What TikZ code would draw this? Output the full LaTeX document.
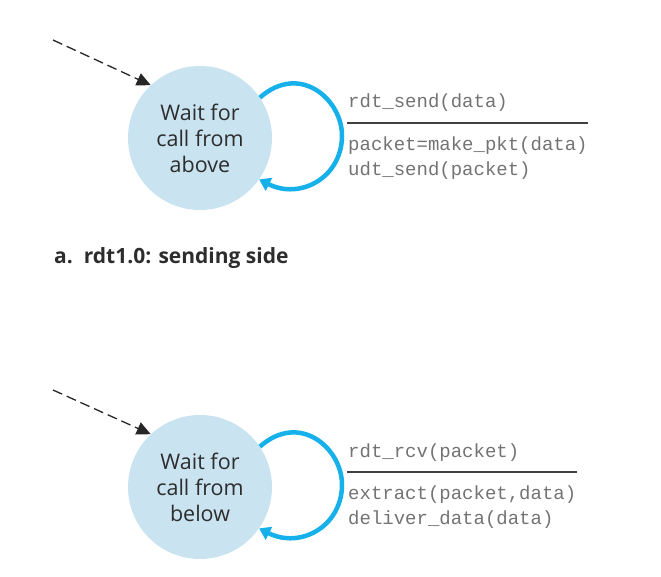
\documentclass[tikz,border=0pt]{standalone}
\usepackage{fontspec}
\setmainfont{Open Sans}
\newfontfamily\codefont{Liberation Mono}
\usetikzlibrary{arrows.meta}
\definecolor{statefill}{RGB}{201,227,241}
\definecolor{loopblue}{RGB}{22,176,234}
\definecolor{codegray}{RGB}{115,115,115}
\definecolor{textdark}{RGB}{45,45,45}
\tikzset{
  statenode/.style={circle, fill=statefill, minimum size=144pt, inner sep=0pt,
    align=center, font=\fontsize{21.5}{26}\selectfont, text=textdark},
  initarrow/.style={draw=black!85, line width=1.3pt, dash pattern=on 10pt off 5pt,
    -{Triangle[length=14pt,width=13pt]}},
  looparrow/.style={draw=loopblue, line width=4.5pt,
    -{Triangle[length=11pt,width=14pt]}},
  codetext/.style={anchor=west, inner sep=0pt, font=\codefont\fontsize{19}{25}\selectfont, text=codegray},
  sepline/.style={draw=black!75, line width=1.4pt},
  captiontext/.style={anchor=west, inner sep=0pt, font=\bfseries\fontsize{21}{24}\selectfont, text=textdark}
}
\begin{document}
\begin{tikzpicture}[x=1pt,y=-1pt]
\useasboundingbox (0,0) rectangle (661,577);
% sending side
\node[statenode] (s1) at (200,138) {Wait for\\call from\\above};
\coordinate (i1) at (53,40);
\draw[initarrow] (i1) -- (s1.133);
\draw[looparrow] (s1.34) .. controls (300,62) and (343,100) .. (342,137)
  .. controls (341,178) and (300,200) .. (s1.-35);
\node[codetext] (e1) at (348,103) {rdt\_send(data)};
\coordinate (l1a) at (347,123);
\coordinate (l1b) at (588,123);
\draw[sepline] (l1a) -- (l1b);
\node[codetext] (a1) at (348,146) {packet=make\_pkt(data)};
\node[codetext] (a2) at (348,171) {udt\_send(packet)};
\node[captiontext] (c1) at (54,258) {a.\ \ rdt1.0: sending side};
% receiving side
\node[statenode] (s2) at (200,487) {Wait for\\call from\\below};
\coordinate (i2) at (53,390);
\draw[initarrow] (i2) -- (s2.133);
\draw[looparrow] (s2.34) .. controls (300,411) and (343,449) .. (342,486)
  .. controls (341,527) and (300,549) .. (s2.-35);
\node[codetext] (e2) at (348,453) {rdt\_rcv(packet)};
\coordinate (l2a) at (347,472);
\coordinate (l2b) at (577,472);
\draw[sepline] (l2a) -- (l2b);
\node[codetext] (a3) at (348,495) {extract(packet,data)};
\node[codetext] (a4) at (348,520) {deliver\_data(data)};
\end{tikzpicture}
\end{document}
